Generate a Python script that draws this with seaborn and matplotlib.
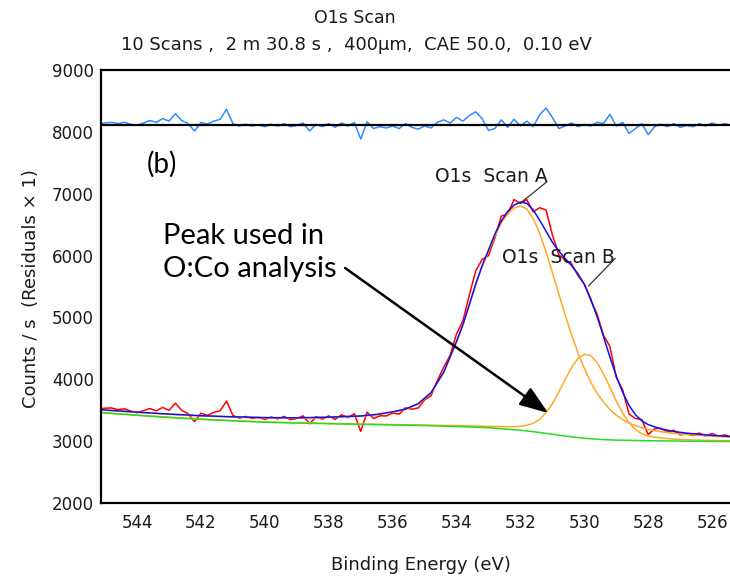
import numpy as np
import pandas as pd
import matplotlib
matplotlib.use("Agg")
import matplotlib.pyplot as plt
from matplotlib.ticker import MultipleLocator
import seaborn as sns

# ---------------- data ----------------
# measured spectrum and residuals: 0.2 eV sampling, 545.2 -> 525.4 eV
energy = np.linspace(545.2, 525.4, 100)

counts = [3523, 3536, 3539, 3512, 3526, 3489, 3462, 3496, 3530, 3493,
          3547, 3501, 3616, 3500, 3445, 3319, 3454, 3421, 3467, 3494,
          3650, 3417, 3374, 3402, 3369, 3387, 3354, 3393, 3362, 3402,
          3351, 3370, 3412, 3284, 3397, 3359, 3411, 3355, 3429, 3383,
          3446, 3160, 3470, 3370, 3413, 3410, 3457, 3439, 3541, 3520,
          3539, 3670, 3737, 3980, 4199, 4390, 4735, 4947, 5360, 5751,
          5936, 5998, 6285, 6637, 6671, 6903, 6843, 6902, 6705, 6772,
          6735, 6335, 6013, 5931, 5867, 5676, 5543, 5280, 5053, 4714,
          4532, 4033, 3831, 3441, 3370, 3351, 3110, 3205, 3211, 3150,
          3180, 3106, 3122, 3093, 3134, 3085, 3127, 3081, 3104, 3068]

residuals = [8120, 8140, 8150, 8130, 8150, 8120, 8100, 8140, 8180, 8150,
             8210, 8170, 8290, 8180, 8130, 8010, 8150, 8120, 8170, 8200,
             8360, 8130, 8090, 8120, 8090, 8110, 8080, 8120, 8090, 8130,
             8080, 8100, 8140, 8010, 8120, 8080, 8130, 8070, 8140, 8090,
             8150, 7880, 8160, 8050, 8080, 8060, 8090, 8050, 8130, 8070,
             8040, 8090, 8060, 8150, 8190, 8140, 8230, 8170, 8260, 8320,
             8210, 8020, 8050, 8190, 8070, 8200, 8090, 8170, 8080, 8270,
             8380, 8230, 8050, 8090, 8140, 8080, 8120, 8090, 8150, 8130,
             8280, 8090, 8150, 7970, 8050, 8130, 7950, 8080, 8120, 8080,
             8130, 8070, 8100, 8080, 8130, 8090, 8140, 8100, 8130, 8100]
residual_zero = 8110

# fitted curves
fit_energy = [545.2, 544.0, 543.0, 542.0, 541.0, 540.0, 539.0, 538.0, 537.5,
              537.0, 536.5, 536.0, 535.6, 535.2, 534.8, 534.4, 534.0, 533.8,
              533.6, 533.4, 533.2, 533.0, 532.8, 532.6, 532.4, 532.2, 532.0,
              531.8, 531.6, 531.4, 531.2, 531.0, 530.8, 530.6, 530.4, 530.2,
              530.0, 529.8, 529.6, 529.4, 529.2, 529.0, 528.8, 528.6, 528.4,
              528.2, 528.0, 527.6, 527.2, 526.8, 526.4, 526.0, 525.4]

background = [3465, 3420, 3385, 3355, 3330, 3310, 3295, 3285, 3280,
              3275, 3270, 3265, 3261, 3257, 3252, 3246, 3240, 3236,
              3232, 3228, 3224, 3220, 3212, 3204, 3196, 3188, 3180,
              3168, 3156, 3143, 3129, 3115, 3101, 3087, 3073, 3062,
              3050, 3042, 3034, 3028, 3024, 3020, 3018, 3016, 3014,
              3012, 3010, 3008, 3006, 3004, 3002, 3000, 2998]

peak_a = [3508, 3467, 3436, 3409, 3392, 3379, 3375, 3386, 3396,
          3405, 3429, 3471, 3514, 3601, 3777, 4108, 4601, 4872,
          5194, 5523, 5816, 6065, 6318, 6524, 6671, 6765, 6800,
          6752, 6599, 6361, 6061, 5725, 5378, 5038, 4720, 4430,
          4176, 3958, 3776, 3633, 3513, 3422, 3351, 3295, 3253,
          3222, 3195, 3156, 3129, 3109, 3096, 3083, 3067]

peak_b = [3470, 3425, 3390, 3360, 3335, 3315, 3300, 3290, 3285,
          3280, 3276, 3271, 3268, 3265, 3262, 3257, 3254, 3251,
          3248, 3246, 3244, 3243, 3239, 3237, 3236, 3236, 3243,
          3258, 3292, 3354, 3463, 3605, 3796, 4000, 4190, 4338,
          4407, 4384, 4271, 4089, 3873, 3651, 3458, 3302, 3191,
          3121, 3085, 3053, 3037, 3027, 3020, 3014, 3009]

envelope = [3513, 3472, 3441, 3414, 3397, 3384, 3380, 3391, 3401,
            3410, 3435, 3477, 3521, 3609, 3787, 4119, 4615, 4887,
            5210, 5541, 5836, 6088, 6345, 6557, 6711, 6813, 6863,
            6842, 6735, 6572, 6395, 6215, 6073, 5951, 5837, 5706,
            5533, 5300, 5013, 4694, 4362, 4053, 3791, 3581, 3430,
            3331, 3270, 3201, 3160, 3132, 3114, 3097, 3078]

title = "O1s Scan"
subtitle = "10 Scans ,  2 m 30.8 s ,  400\u00b5m,  CAE 50.0,  0.10 eV"
xlabel = "Binding Energy (eV)"
ylabel = "Counts / s  (Residuals \u00d7 1)"

# ---------------- figure ----------------
sns.set_style("white")
plt.rcParams['font.family'] = ['DejaVu Sans']

fig = plt.figure(figsize=(7.3, 5.8), dpi=100)
W, H = 730.0, 580.0
ax = fig.add_axes([101 / W, 1 - 503.3 / H, 1 - 101 / W, (503.3 - 69.7) / H])

meas = pd.DataFrame({"E": energy, "counts": counts, "resid": residuals})
fit = pd.DataFrame({"E": fit_energy, "bg": background, "A": peak_a,
                    "B": peak_b, "env": envelope})

lw = 1.1
sns.lineplot(data=meas, x="E", y="resid", color="#2e8bff", lw=lw, ax=ax,
             estimator=None, sort=False)
ax.axhline(residual_zero, color="black", lw=1.6, zorder=3)
sns.lineplot(data=meas, x="E", y="counts", color="#ff0000", lw=lw, ax=ax,
             estimator=None, sort=False)
sns.lineplot(data=fit, x="E", y="A", color="#ffa726", lw=lw, ax=ax,
             estimator=None, sort=False)
sns.lineplot(data=fit, x="E", y="B", color="#ffa726", lw=lw, ax=ax,
             estimator=None, sort=False)
sns.lineplot(data=fit, x="E", y="bg", color="#22dd22", lw=lw, ax=ax,
             estimator=None, sort=False)
sns.lineplot(data=fit, x="E", y="env", color="#1010ee", lw=lw, ax=ax,
             estimator=None, sort=False)

ax.set_xlim(545.13, 525.44)
ax.set_ylim(2000, 9000)
ax.xaxis.set_major_locator(MultipleLocator(2))
ax.xaxis.set_minor_locator(MultipleLocator(1))
ax.yaxis.set_major_locator(MultipleLocator(1000))
ax.yaxis.set_minor_locator(MultipleLocator(500))
ax.tick_params(which="both", direction="inout", length=8, width=1.4,
               color="black", labelsize=12, labelcolor="#1a1a1a")
ax.tick_params(axis="x", which="both", pad=4)
ax.tick_params(axis="y", which="both", pad=1)
ax.set_xlabel("")
ax.set_ylabel("")

for side in ["left", "bottom", "top"]:
    ax.spines[side].set_visible(True)
    ax.spines[side].set_color("black")
    ax.spines[side].set_linewidth(1.6)
ax.spines["right"].set_visible(False)

# titles and axis labels
fig.text(355 / W, 1 - 18 / H, title, ha="center", va="center",
         fontsize=12.5, color="#1a1a1a")
fig.text(356 / W, 1 - 45 / H, subtitle, ha="center", va="center",
         fontsize=13, color="#1a1a1a")
fig.text(421 / W, 1 - 565 / H, xlabel, ha="center", va="center",
         fontsize=13, color="#1a1a1a")
fig.text(31 / W, 1 - 289 / H, ylabel, ha="center", va="center",
         rotation=90, fontsize=13, color="#1a1a1a")

# peak labels with leader lines
ax.text(532.92, 7268, "O1s  Scan A", ha="center", va="center",
        fontsize=13.5, color="#1a1a1a")
ax.annotate("", xy=(532.01, 6843), xytext=(531.17, 7192),
            arrowprops=dict(arrowstyle="-", color="#333333", lw=0.9,
                            shrinkA=0, shrinkB=0))
ax.text(530.81, 5968, "O1s  Scan B", ha="center", va="center",
        fontsize=13.5, color="#1a1a1a")
ax.annotate("", xy=(529.87, 5508), xytext=(529.03, 5955),
            arrowprops=dict(arrowstyle="-", color="#333333", lw=0.9,
                            shrinkA=0, shrinkB=0))

# added annotations
ax.text(543.69, 7465, "(b)", ha="left", va="center", fontsize=20,
        family=["Lato", "DejaVu Sans"], color="black")
ax.text(543.19, 6050, "Peak used in\nO:Co analysis", ha="left", va="center",
        fontsize=21, family=["Lato", "DejaVu Sans"], color="black",
        linespacing=1.3)
ax.annotate("", xy=(531.13, 3458), xytext=(537.49, 5799),
            arrowprops=dict(arrowstyle="-|>,head_length=1.1,head_width=0.4",
                            mutation_scale=16, color="black", lw=1.8,
                            shrinkA=0, shrinkB=0))

fig.savefig("out.png", dpi=100, facecolor="white")
